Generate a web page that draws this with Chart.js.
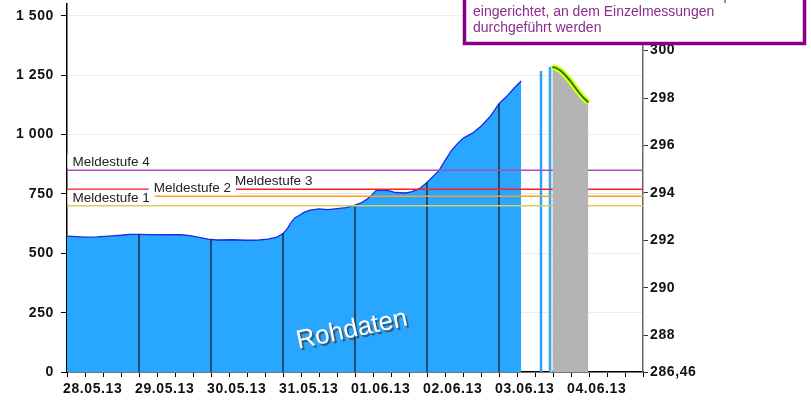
<!DOCTYPE html>
<html>
<head>
<meta charset="utf-8">
<script src="https://cdn.jsdelivr.net/npm/chart.js@4.4.1/dist/chart.umd.min.js"></script>
<style>
  html, body { margin: 0; padding: 0; background: #fff; }
  #wrap { position: relative; width: 811px; height: 402px; }
</style>
</head>
<body>
<div id="wrap"><canvas id="chart" width="811" height="402"></canvas></div>
<script>
// Tick labels (x axis: one per day, starting 28.05.13 00:00)
const dayLabels = ["28.05.13", "29.05.13", "30.05.13", "31.05.13", "01.06.13", "02.06.13", "03.06.13", "04.06.13"];
const leftTicks = [0, 250, 500, 750, 1000, 1250, 1500];
const rightTicks = [286.46, 288, 290, 292, 294, 296, 298, 300];
const gaugeZero = 286.46; // m ü. NN, right axis = gaugeZero + W/100

// Raw water level (cm), hours since 28.05.13 00:00
const rawHours = [0, 3, 6, 10, 14, 18, 21, 24, 28, 33, 38, 41, 44, 47, 50, 55, 60, 64, 67, 70,
  72, 73.5, 74.7, 76, 77.5, 79, 81, 84, 87, 90, 93, 96, 98, 100, 101.5, 103, 105, 107.5, 109.5,
  113, 115, 117.5, 120, 122, 124, 126, 128, 130, 132, 135, 138, 141, 144, 146.5, 149, 151.4];
const rawLevels = [572, 570, 568, 569, 572, 576, 580, 580, 579, 578, 578, 574, 567, 560, 556, 557, 555, 556, 560, 568,
  583, 605, 630, 650, 660, 672, 682, 687, 684, 688, 692, 703, 712, 728, 745, 764, 766, 763, 756,
  754, 760, 772, 798, 824, 848, 890, 930, 960, 984, 1005, 1035, 1075, 1130, 1160, 1195, 1226];

// Single readings after the raw series
const spikeHours = [158, 161];
const spikeLevels = [1268, 1285];
const markHours = [162.7];
const markLevels = [1285];
const nowHours = [161.5];
const nowLevels = [1290];

// Forecast (cm)
const forecastHours = [161.8, 163, 164.5, 166, 167.5, 169, 170.5, 172, 173.8];
const forecastLevels = [1285, 1281, 1270, 1252, 1230, 1205, 1180, 1157, 1135];

// Meldestufen
const alertLevels = [700, 740, 770, 850];
const alertNames = ["Meldestufe 1", "Meldestufe 2", "Meldestufe 3", "Meldestufe 4"];
const alertColors = ["#d9cb5c", "#ffa31a", "#ff1f1f", "#a54fb5"];

const dayHours = [24, 48, 72, 96, 120, 144, 168];

const noteLines = [
  "Hinweis: Für diesen Zeitraum wurde ein provisorischer Messpegel",
  "eingerichtet, an dem Einzelmessungen",
  "durchgeführt werden"
];

const FONT = "'Liberation Sans', Arial, sans-serif";

function toXY(hours, levels) {
  return hours.map((h, i) => ({ x: h, y: levels[i] }));
}

// vertical strokes from 0 up to the given level, broken with nulls
function verticals(hours, levels) {
  return hours.flatMap((h, i) => [{ x: h, y: 0 }, { x: h, y: levels[i] }, { x: h, y: null }]);
}

// level at hour h
function levelAt(h) {
  const series = [[rawHours, rawLevels], [forecastHours, forecastLevels]];
  for (const [hs, vs] of series) {
    for (let i = 0; i < hs.length - 1; i++) {
      if (h >= hs[i] && h <= hs[i + 1]) {
        const t = (h - hs[i]) / (hs[i + 1] - hs[i]);
        return vs[i] + t * (vs[i + 1] - vs[i]);
      }
    }
  }
  return null;
}

const alertDatasets = alertLevels.map((lvl, i) => ({
  label: alertNames[i],
  data: [{ x: 0, y: lvl }, { x: 192, y: lvl }],
  borderColor: alertColors[i],
  borderWidth: 1.6,
  pointRadius: 0,
  fill: false,
  order: 3
}));

// white-boxed labels above the Meldestufe lines, pushed right when they collide
const alertLabelPlugin = {
  id: "alertLabels",
  afterDatasetsDraw(chart) {
    const { ctx, chartArea, scales } = chart;
    ctx.save();
    ctx.font = "13.5px " + FONT;
    ctx.textBaseline = "middle";
    const boxes = [];
    alertLevels.forEach((lvl, i) => {
      const cy = scales.y.getPixelForValue(lvl) - 9;
      const w = ctx.measureText(alertNames[i]).width;
      let x = chartArea.left + 5.5;
      for (let pass = 0; pass < 10; pass++) {
        let moved = false;
        for (const b of boxes) {
          if (Math.abs(b.cy - cy) < 14 && x < b.x + b.w + 4 && x + w + 10 > b.x) {
            x = b.x + b.w + 4;
            moved = true;
          }
        }
        if (!moved) break;
      }
      boxes.push({ x, w, cy });
      ctx.fillStyle = "#fff";
      ctx.fillRect(x - 5, cy - 7, w + 10, 14);
      ctx.fillStyle = "#222";
      ctx.fillText(alertNames[i], x, cy + 1);
    });
    ctx.restore();
  }
};

const watermarkPlugin = {
  id: "watermark",
  afterDatasetsDraw(chart) {
    const { ctx } = chart;
    ctx.save();
    ctx.translate(352, 330);
    ctx.rotate(-12 * Math.PI / 180);
    ctx.font = "26px " + FONT;
    ctx.textAlign = "center";
    ctx.textBaseline = "middle";
    ctx.shadowColor = "rgba(60,60,60,0.8)";
    ctx.shadowOffsetX = 2;
    ctx.shadowOffsetY = 2;
    ctx.shadowBlur = 1;
    ctx.fillStyle = "#fff";
    ctx.fillText("Rohdaten", 0, 0);
    ctx.restore();
  }
};

// axis labels in the original are slightly letter-spaced
const spacingPlugin = {
  id: "spacing",
  beforeDraw(chart) {
    chart.ctx.letterSpacing = "0.6px";
  },
  beforeDatasetsDraw(chart) {
    chart.ctx.letterSpacing = "0px";
  }
};

const noteBoxPlugin = {
  id: "noteBox",
  afterDraw(chart) {
    const { ctx } = chart;
    ctx.save();
    ctx.letterSpacing = "0px";
    ctx.fillStyle = "#fff";
    ctx.fillRect(464, -10, 341, 54);
    ctx.strokeStyle = "#850085";
    ctx.lineWidth = 3.5;
    ctx.strokeRect(464.5, -10, 340, 53.5);
    ctx.fillStyle = "#8e2a8e";
    ctx.font = "14px " + FONT;
    ctx.textBaseline = "middle";
    noteLines.forEach((line, i) => ctx.fillText(line, 473, -3.5 + i * 16));
    ctx.restore();
  }
};

function noPad(scale) {
  scale.paddingTop = 0;
  scale.paddingBottom = 0;
  scale.paddingLeft = 0;
  scale.paddingRight = 0;
}

new Chart(document.getElementById("chart"), {
  type: "line",
  data: {
    datasets: [
      {
        label: "Vorhersage Linie",
        data: toXY(forecastHours, forecastLevels),
        borderColor: "#0b8a0b",
        borderWidth: 2,
        pointRadius: 0,
        fill: false,
        order: 0
      },
      {
        label: "Vorhersage",
        data: toXY(forecastHours, forecastLevels),
        borderColor: "#e4ff10",
        borderWidth: 6,
        backgroundColor: "#b4b4b4",
        pointRadius: 0,
        fill: "origin",
        order: 1
      },
      ...alertDatasets,
      {
        label: "Tage",
        data: verticals(dayHours, dayHours.map(levelAt)),
        borderColor: "#111",
        borderWidth: 1.2,
        pointRadius: 0,
        fill: false,
        order: 4
      },
      {
        label: "Jetzt",
        data: verticals(nowHours, nowLevels),
        borderColor: "#c4d4c4",
        borderDash: [3, 2],
        borderWidth: 1.5,
        pointRadius: 0,
        fill: false,
        order: 5
      },
      {
        label: "Messung",
        data: verticals(markHours, markLevels),
        borderColor: "#4aa8ff",
        borderWidth: 1.2,
        pointRadius: 0,
        fill: false,
        order: 2
      },
      {
        label: "Einzelwerte",
        data: verticals(spikeHours, spikeLevels),
        borderColor: "#2aa4ff",
        borderWidth: 2.5,
        pointRadius: 0,
        fill: false,
        order: 6
      },
      {
        label: "Rohdaten",
        data: toXY(rawHours, rawLevels),
        borderColor: "#1a2ae6",
        borderWidth: 1.3,
        backgroundColor: "#29a6ff",
        pointRadius: 0,
        fill: "origin",
        order: 7
      }
    ]
  },
  options: {
    responsive: false,
    animation: false,
    spanGaps: false,
    layout: { padding: { top: 4, left: 0, right: 0, bottom: 0 } },
    plugins: {
      legend: { display: false },
      tooltip: { enabled: false }
    },
    scales: {
      x: {
        type: "linear",
        min: 0,
        max: 192,
        afterBuildTicks(scale) {
          const ticks = [];
          for (let h = 0; h <= 192; h += 6) ticks.push({ value: h });
          scale.ticks = ticks;
        },
        afterFit(scale) {
          scale.height = 30;
          noPad(scale);
        },
        ticks: {
          autoSkip: false,
          maxRotation: 0,
          align: "start",
          labelOffset: -4,
          padding: 4,
          color: "#111",
          font: { family: FONT, size: 14, weight: "bold" },
          callback: (v) => (v % 24 === 0 && dayLabels[v / 24]) ? dayLabels[v / 24] : ""
        },
        grid: { drawOnChartArea: false, drawTicks: true, tickLength: 5, color: "#000" },
        border: { display: true, color: "#000", width: 1.5 }
      },
      y: {
        position: "left",
        min: 0,
        max: 1550,
        afterBuildTicks(scale) {
          scale.ticks = leftTicks.map((v) => ({ value: v }));
        },
        afterFit(scale) {
          scale.width = 67;
          noPad(scale);
        },
        ticks: {
          padding: 7,
          color: "#111",
          font: { family: FONT, size: 14, weight: "bold" },
          callback: (v) => String(v).replace(/\B(?=(\d{3})+(?!\d))/g, " ")
        },
        grid: { color: "#ececec", lineWidth: 1, drawTicks: true, tickLength: 6, tickColor: "#000" },
        border: { display: true, color: "#000", width: 1.5 }
      },
      y2: {
        position: "right",
        min: gaugeZero,
        max: gaugeZero + 15.5,
        afterBuildTicks(scale) {
          scale.ticks = rightTicks.map((v) => ({ value: v }));
        },
        afterFit(scale) {
          scale.width = 811 - 643;
          noPad(scale);
        },
        ticks: {
          padding: 2,
          color: "#111",
          font: { family: FONT, size: 14, weight: "bold" },
          callback: (v) => Number.isInteger(v) ? String(v) : v.toFixed(2).replace(".", ",")
        },
        grid: { drawOnChartArea: false, drawTicks: true, tickLength: 5, tickColor: "#333" },
        border: { display: true, color: "#666", width: 1.5 }
      }
    }
  },
  plugins: [spacingPlugin, watermarkPlugin, alertLabelPlugin, noteBoxPlugin]
});
</script>
</body>
</html>
